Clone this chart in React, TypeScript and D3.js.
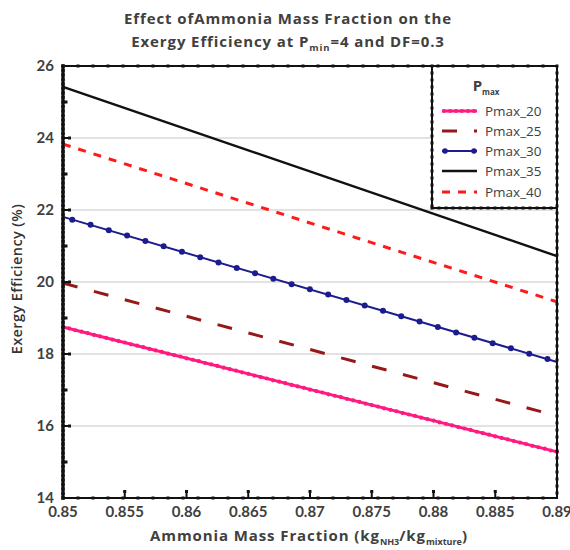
import React from "react";
import * as d3 from "d3";

// ---------- data ----------
const xTicks = [0.85, 0.855, 0.86, 0.865, 0.87, 0.875, 0.88, 0.885, 0.89];
const xTickLabels = ["0.85", "0.855", "0.86", "0.865", "0.87", "0.875", "0.88", "0.885", "0.89"];
const yTicks = [14, 16, 18, 20, 22, 24, 26];
const yMinorTicks = [15, 17, 19, 21, 23, 25];

const seriesNames = ["Pmax_20", "Pmax_25", "Pmax_30", "Pmax_35", "Pmax_40"];
const lineX = [0.85, 0.89];
const pmax20 = [18.75, 15.28];
const pmax25 = [19.97, 16.28];
const pmax30 = [21.81, 17.78];
const pmax35 = [25.42, 20.72];
const pmax40 = [23.83, 19.45];

// marker points
const pink20X = [
  0.85, 0.8505, 0.851, 0.8515, 0.852, 0.8525, 0.853, 0.8535, 0.854, 0.8545,
  0.855, 0.8555, 0.856, 0.8565, 0.857, 0.8575, 0.858, 0.8585, 0.859, 0.8595,
  0.86, 0.8605, 0.861, 0.8615, 0.862, 0.8625, 0.863, 0.8635, 0.864, 0.8645,
  0.865, 0.8655, 0.866, 0.8665, 0.867, 0.8675, 0.868, 0.8685, 0.869, 0.8695,
  0.87, 0.8705, 0.871, 0.8715, 0.872, 0.8725, 0.873, 0.8735, 0.874, 0.8745,
  0.875, 0.8755, 0.876, 0.8765, 0.877, 0.8775, 0.878, 0.8785, 0.879, 0.8795,
  0.88, 0.8805, 0.881, 0.8815, 0.882, 0.8825, 0.883, 0.8835, 0.884, 0.8845,
  0.885, 0.8855, 0.886, 0.8865, 0.887, 0.8875, 0.888, 0.8885, 0.889, 0.8895, 0.89,
];
const pink20Y = [
  18.75, 18.71, 18.66, 18.62, 18.58, 18.53, 18.49, 18.45, 18.4, 18.36,
  18.32, 18.27, 18.23, 18.19, 18.14, 18.1, 18.06, 18.01, 17.97, 17.93,
  17.88, 17.84, 17.8, 17.75, 17.71, 17.67, 17.62, 17.58, 17.54, 17.49,
  17.45, 17.4, 17.36, 17.32, 17.27, 17.23, 17.19, 17.14, 17.1, 17.06,
  17.01, 16.97, 16.93, 16.88, 16.84, 16.8, 16.75, 16.71, 16.67, 16.62,
  16.58, 16.54, 16.49, 16.45, 16.41, 16.36, 16.32, 16.28, 16.23, 16.19,
  16.15, 16.1, 16.06, 16.02, 15.97, 15.93, 15.89, 15.84, 15.8, 15.76,
  15.71, 15.67, 15.63, 15.58, 15.54, 15.5, 15.45, 15.41, 15.37, 15.32, 15.28,
];
const blue30X = [
  0.85075, 0.85223, 0.85371, 0.85519, 0.85667, 0.85815, 0.85963, 0.86111, 0.86259,
  0.86407, 0.86555, 0.86703, 0.86851, 0.86999, 0.87147, 0.87295, 0.87443, 0.87591,
  0.87739, 0.87887, 0.88035, 0.88183, 0.88331, 0.88479, 0.88627, 0.88775, 0.88923,
];
const blue30Y = [
  21.73, 21.59, 21.44, 21.29, 21.14, 20.99, 20.84, 20.69, 20.54,
  20.39, 20.24, 20.09, 19.94, 19.8, 19.65, 19.5, 19.35, 19.2,
  19.05, 18.9, 18.75, 18.6, 18.45, 18.3, 18.16, 18.01, 17.86,
];

// ---------- layout ----------
const W = 570, H = 550;
const L = 63, R = 557, T = 66, B = 498;
const FONT = "Lato, 'Open Sans', sans-serif";
const FONT2 = "'Open Sans', Lato, sans-serif";
const TXT = "#404040";

const x = d3.scaleLinear().domain([0.85, 0.89]).range([L, R]);
const y = d3.scaleLinear().domain([14, 26]).range([B, T]);

const styles = [
  { color: "#ff1a80", width: 3, dash: "", marker: "pink" },
  { color: "#961818", width: 3, dash: "15 17", marker: "" },
  { color: "#1c1c8e", width: 2, dash: "", marker: "blue" },
  { color: "#111111", width: 2.5, dash: "", marker: "" },
  { color: "#ff1a1a", width: 3, dash: "8 8", marker: "" },
];
const seriesY = [pmax20, pmax25, pmax30, pmax35, pmax40];

const lineGen = d3
  .line<[number, number]>()
  .x((d) => x(d[0]))
  .y((d) => y(d[1]));

function dotsAlong(x1: number, y1: number, x2: number, y2: number, step: number, size: number, key: string) {
  const len = Math.hypot(x2 - x1, y2 - y1);
  const n = Math.floor(len / step);
  const out: JSX.Element[] = [];
  for (let i = 0; i <= n; i++) {
    const t = (i * step) / len;
    const cx = x1 + (x2 - x1) * t;
    const cy = y1 + (y2 - y1) * t;
    out.push(<rect key={key + i} x={cx - size / 2} y={cy - size / 2} width={size} height={size} fill="#111" />);
  }
  return out;
}

export default function App() {
  const legL = 432, legT = T, legR = R, legB = 208;
  const rowY = [111, 131, 151, 171, 192];
  return (
    <svg width={W} height={H} style={{ position: "absolute", left: 0, top: 0, background: "#fff" }}>
      <rect x={0} y={0} width={W} height={H} fill="#fff" />
      {/* title */}
      <text x={288} y={24} textAnchor="middle" fontFamily={FONT2} fontWeight="bold" fontSize={15} letterSpacing={0.9} fill={TXT}>
        Effect ofAmmonia Mass Fraction on the
      </text>
      <text x={288} y={47} textAnchor="middle" fontFamily={FONT2} fontWeight="bold" fontSize={15} letterSpacing={0.9} fill={TXT}>
        Exergy Efficiency at P<tspan fontSize={9.5} dy={4}>min</tspan>
        <tspan dy={-4}>=4 and DF=0.3</tspan>
      </text>

      {/* gridlines */}
      {yTicks.slice(1, -1).map((v) => (
        <line key={"g" + v} x1={L} x2={R} y1={y(v)} y2={y(v)} stroke="#d9d9d9" strokeWidth={1.5} />
      ))}

      {/* series lines */}
      {seriesY.map((ys, i) => (
        <path
          key={"s" + i}
          d={lineGen(lineX.map((xv, j) => [xv, ys[j]] as [number, number])) || ""}
          fill="none"
          stroke={styles[i].color}
          strokeWidth={styles[i].width}
          strokeDasharray={styles[i].dash || undefined}
        />
      ))}
      {pink20X.map((xv, i) => (
        <circle key={"pm" + i} cx={x(xv)} cy={y(pink20Y[i])} r={2.1} fill={styles[0].color} />
      ))}
      {blue30X.map((xv, i) => (
        <circle key={"bm" + i} cx={x(xv)} cy={y(blue30Y[i])} r={3} fill={styles[2].color} />
      ))}

      {/* ticks */}
      {yTicks.slice(1, -1).map((v) => (
        <g key={"yt" + v}>
          <line x1={L} x2={L + 7} y1={y(v)} y2={y(v)} stroke="#111" strokeWidth={2} />
          <rect x={L + 5} y={y(v) - 1.5} width={3} height={3} fill="#111" />
        </g>
      ))}
      {yMinorTicks.map((v) => (
        <rect key={"ym" + v} x={L + 1} y={y(v) - 1.5} width={3.5} height={3} fill="#111" />
      ))}
      {xTicks.slice(1, -1).map((v) => (
        <g key={"xt" + v}>
          <line x1={x(v)} x2={x(v)} y1={B} y2={B - 7} stroke="#111" strokeWidth={2} />
          <rect x={x(v) - 1.5} y={B - 8} width={3} height={3} fill="#111" />
        </g>
      ))}

      {/* legend */}
      <rect x={legL} y={legT} width={legR - legL} height={legB - legT} fill="#fff" />
      <text x={486} y={91} textAnchor="middle" fontFamily={FONT2} fontWeight="bold" fontSize={15} fill={TXT}>
        P<tspan fontSize={8} dy={4}>max</tspan>
      </text>
      {seriesNames.map((name, i) => (
        <g key={"lg" + i}>
          <line
            x1={442}
            x2={477}
            y1={rowY[i]}
            y2={rowY[i]}
            stroke={styles[i].color}
            strokeWidth={styles[i].width}
            strokeDasharray={styles[i].dash || undefined}
          />
          {styles[i].marker === "pink" &&
            [444, 450, 456, 462, 468, 474].map((cx) => (
              <circle key={"lp" + cx} cx={cx} cy={rowY[i]} r={2.1} fill={styles[i].color} />
            ))}
          {styles[i].marker === "blue" &&
            [445, 474].map((cx) => <circle key={"lb" + cx} cx={cx} cy={rowY[i]} r={2.8} fill={styles[i].color} />)}
          <text x={485} y={rowY[i] + 5} fontFamily={FONT2} fontSize={13.5} fill={TXT}>
            {name}
          </text>
        </g>
      ))}
      <line x1={legL} x2={legL} y1={legT} y2={legB} stroke="#111" strokeWidth={2} />
      <line x1={legL} x2={legR} y1={legB} y2={legB} stroke="#111" strokeWidth={2} />
      {dotsAlong(legL, legT, legL, legB, 7, 3, "dl")}
      {dotsAlong(legL, legB, legR, legB, 7, 3, "db")}

      {/* frame */}
      <rect x={L} y={T} width={R - L} height={B - T} fill="none" stroke="#111" strokeWidth={2} />
      <line x1={L} x2={L} y1={T} y2={B} stroke="#111" strokeWidth={3} />
      {dotsAlong(L, T, R, T, 15, 3, "ft")}
      {dotsAlong(L, B, R, B, 15, 3, "fb")}
      {dotsAlong(L, T, L, B, 4.5, 3.5, "fl")}
      {dotsAlong(R, T, R, B, 7, 3, "fr")}

      {/* axis labels */}
      {yTicks.map((v) => (
        <text key={"yl" + v} x={54} y={y(v) + 5} textAnchor="end" fontFamily={FONT} fontWeight="bold" fontSize={15} fill={TXT}>
          {v}
        </text>
      ))}
      {xTicks.map((v, i) => (
        <text key={"xl" + v} x={x(v)} y={517} textAnchor="middle" fontFamily={FONT} fontWeight="bold" fontSize={15} fill={TXT}>
          {xTickLabels[i]}
        </text>
      ))}
      <text x={309} y={541} textAnchor="middle" fontFamily={FONT2} fontWeight="bold" fontSize={15} letterSpacing={0.9} fill={TXT}>
        Ammonia Mass Fraction (kg<tspan fontSize={9} dy={4} letterSpacing={0}>NH3</tspan>
        <tspan dy={-4}>/kg</tspan>
        <tspan fontSize={9} dy={4} letterSpacing={0}>mixture</tspan>
        <tspan dy={-4}>)</tspan>
      </text>
      <text
        transform={`translate(22,${(T + B) / 2 - 3}) rotate(-90)`}
        textAnchor="middle"
        fontFamily={FONT2}
        fontWeight={600}
        fontSize={14.5}
        letterSpacing={0.4}
        fill="#333"
      >
        Exergy Efficiency (%)
      </text>
    </svg>
  );
}
